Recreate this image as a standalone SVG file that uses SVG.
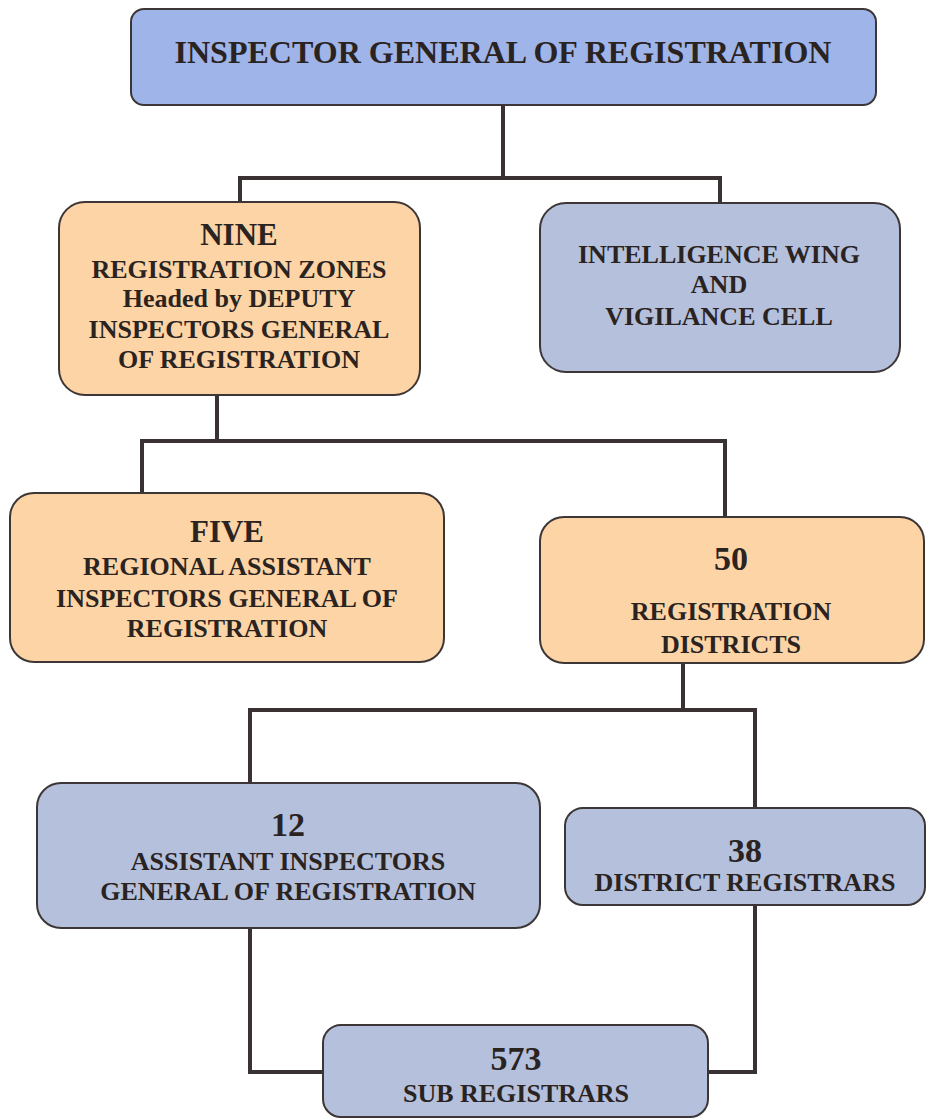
<svg xmlns="http://www.w3.org/2000/svg" width="938" height="1119" viewBox="0 0 938 1119">
<style>
.box{stroke:#3d3636;stroke-width:2}
.blue{fill:#9fb4e8}
.peach{fill:#fcd4a6}
.grey{fill:#b4c0dc}
.conn{fill:none;stroke:#3a3232;stroke-width:4}
text{font-family:"Liberation Serif","Times New Roman",serif;font-weight:bold;fill:#2a231f;text-anchor:middle}
.t{font-size:26px}
.n{font-size:31px}
.d{font-size:34px}
</style>
<rect width="938" height="1119" fill="#ffffff"/>
<g id="connectors">
<path class="conn" d="M503 105 V178 M240 205 V178 H720 V205"/>
<path class="conn" d="M217 395 V441 M142 494 V441 H725 V519"/>
<path class="conn" d="M683 663 V710 M250 785 V710 H755 V810"/>
<path class="conn" d="M250 928 V1072 H325 M755 905 V1072 H706"/>
</g>
<g id="n-igr">
<rect class="box blue" x="131" y="9" width="745" height="96" rx="13"/>
<text x="503" y="63" style="font-size:31px" textLength="657" lengthAdjust="spacingAndGlyphs">INSPECTOR GENERAL OF REGISTRATION</text>
</g>
<g id="n-zones">
<rect class="box peach" x="59" y="202" width="361" height="193" rx="26"/>
<text class="n" x="239" y="245">NINE</text>
<text class="t" x="239" y="278">REGISTRATION ZONES</text>
<text class="t" x="239" y="307">Headed by DEPUTY</text>
<text class="t" x="239" y="338">INSPECTORS GENERAL</text>
<text class="t" x="239" y="368">OF REGISTRATION</text>
</g>
<g id="n-intel">
<rect class="box grey" x="540" y="203" width="360" height="169" rx="26"/>
<text class="t" x="719" y="263">INTELLIGENCE WING</text>
<text class="t" x="719" y="293">AND</text>
<text class="t" x="719" y="325">VIGILANCE CELL</text>
</g>
<g id="n-five">
<rect class="box peach" x="10" y="493" width="434" height="169" rx="24"/>
<text class="n" x="227" y="542">FIVE</text>
<text class="t" x="227" y="575">REGIONAL ASSISTANT</text>
<text class="t" x="227" y="607">INSPECTORS GENERAL OF</text>
<text class="t" x="227" y="637">REGISTRATION</text>
</g>
<g id="n-districts">
<rect class="box peach" x="540" y="517" width="384" height="146" rx="24"/>
<text class="d" x="731" y="570">50</text>
<text class="t" x="731" y="620">REGISTRATION</text>
<text class="t" x="731" y="653">DISTRICTS</text>
</g>
<g id="n-aigr">
<rect class="box grey" x="37" y="783" width="503" height="145" rx="24"/>
<text class="d" x="288" y="836">12</text>
<text class="t" x="288" y="870">ASSISTANT INSPECTORS</text>
<text class="t" x="288" y="900">GENERAL OF REGISTRATION</text>
</g>
<g id="n-dr">
<rect class="box grey" x="565" y="808" width="360" height="97" rx="18"/>
<text class="d" x="745" y="862">38</text>
<text class="t" x="745" y="891">DISTRICT REGISTRARS</text>
</g>
<g id="n-sr">
<rect class="box grey" x="323" y="1025" width="385" height="92" rx="18"/>
<text class="d" x="516" y="1070">573</text>
<text class="t" x="516" y="1102">SUB REGISTRARS</text>
</g>
</svg>
